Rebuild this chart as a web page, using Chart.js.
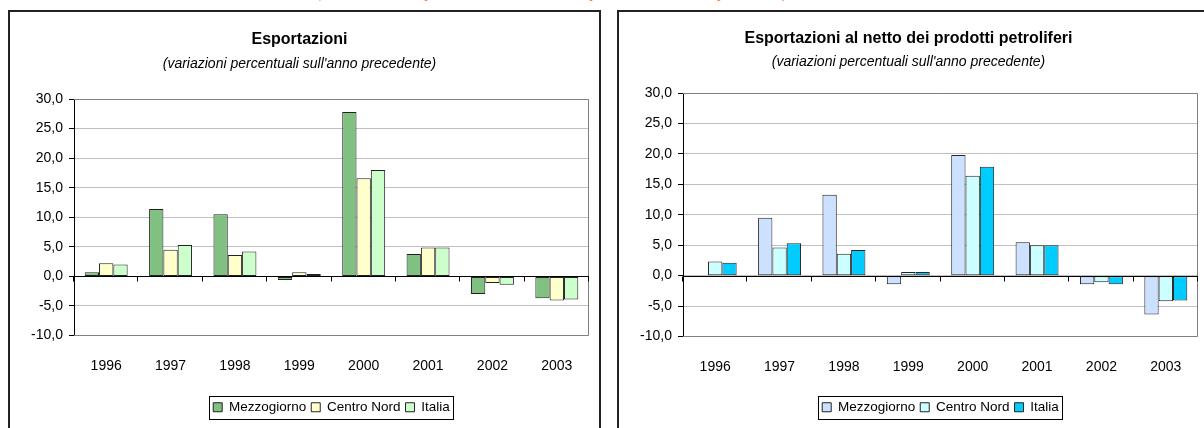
<!DOCTYPE html>
<html><head><meta charset="utf-8">
<script src="https://cdn.jsdelivr.net/npm/chart.js@4"></script>
<style>
html,body{margin:0;padding:0}
body{width:1204px;height:428px;overflow:hidden;background:#fff;position:relative;font-family:"Liberation Sans",Arial,sans-serif}
.panel{position:absolute;border:2px solid #222;background:#fff}
#p1{left:8px;top:10px;width:589px;height:436px}
#p2{left:617px;top:10px;width:600px;height:436px}
.panel canvas{position:absolute;left:0;top:0}
#note{position:absolute;top:-15px;left:316px;font-family:"Liberation Serif",serif;color:#ff6a10;font-size:15px;white-space:nowrap}
</style></head>
<body>
<div id="note">(milioni di euro a prezzi correnti e variazioni percentuali sull'anno precedente)</div>
<div class="panel" id="p1"><canvas id="c1" width="589" height="416"></canvas></div>
<div class="panel" id="p2"><canvas id="c2" width="589" height="416"></canvas></div>
<script>
const years = ['1996','1997','1998','1999','2000','2001','2002','2003'];
const seriesNames = ['Mezzogiorno','Centro Nord','Italia'];
// Esportazioni
const expMezzogiorno = [0.7, 11.4, 10.5, -0.6, 27.8, 3.8, -3.0, -3.7];
const expCentroNord  = [2.2, 4.5, 3.6, 0.7, 16.6, 4.9, -1.1, -4.1];
const expItalia      = [2.0, 5.3, 4.2, 0.4, 18.0, 4.9, -1.4, -3.9];
// Esportazioni al netto dei prodotti petroliferi
const netMezzogiorno = [-0.2, 9.5, 13.3, -1.4, 19.8, 5.5, -1.4, -6.4];
const netCentroNord  = [2.3, 4.6, 3.6, 0.6, 16.4, 5.0, -1.1, -4.2];
const netItalia      = [2.1, 5.3, 4.2, 0.6, 17.9, 5.0, -1.4, -4.1];
const yMin = -10, yMax = 30, yStep = 5;

const FONT = '"Liberation Sans", Arial, sans-serif';

const framePlugin = {
  id: 'frame',
  beforeDraw(chart) {
    // centre the legend under the plot area (as in the original)
    const lg = chart.legend, a = chart.chartArea;
    if (!lg || chart.$legendShifted === lg.left) return;
    const dx = Math.round((a.left + a.right) / 2 - (lg.left + lg.right) / 2);
    lg.left += dx; lg.right += dx;
    (lg.legendHitBoxes || []).forEach(h => { h.left += dx; });
    chart.$legendShifted = lg.left;
  },
  beforeDatasetsDraw(chart) {
    const {ctx, chartArea: a} = chart;
    ctx.save();
    ctx.strokeStyle = '#808080'; ctx.lineWidth = 1;
    ctx.beginPath();
    ctx.moveTo(a.left, Math.round(a.top) + 0.5);
    ctx.lineTo(Math.round(a.right) - 0.5, Math.round(a.top) + 0.5);
    ctx.lineTo(Math.round(a.right) - 0.5, Math.round(a.bottom) - 0.5);
    ctx.lineTo(a.left, Math.round(a.bottom) - 0.5);
    ctx.stroke();
    ctx.restore();
  },
  afterDatasetsDraw(chart) {
    const {ctx, chartArea: a, scales: {x, y}} = chart;
    const y0 = Math.round(y.getPixelForValue(0)) + 0.5;
    const half = (x.getPixelForValue(1) - x.getPixelForValue(0)) / 2;
    ctx.save();
    ctx.strokeStyle = '#000'; ctx.lineWidth = 1;
    ctx.beginPath();
    ctx.moveTo(a.left, y0); ctx.lineTo(a.right, y0);
    for (let i = 0; i <= years.length; i++) {
      const xb = Math.round(x.getPixelForValue(i) - half) - 0.5;
      ctx.moveTo(xb, y0); ctx.lineTo(xb, y0 + 5);
    }
    ctx.stroke();
    ctx.restore();
  },
  afterDraw(chart) {
    const lg = chart.legend;
    if (!lg || !lg.legendHitBoxes || !lg.legendHitBoxes.length) return;
    const hb = lg.legendHitBoxes;
    let l = Infinity, r = -Infinity, t = Infinity, b = -Infinity;
    hb.forEach(h => { l = Math.min(l, h.left); r = Math.max(r, h.left + h.width); t = Math.min(t, h.top); b = Math.max(b, h.top + h.height); });
    const ctx = chart.ctx;
    ctx.save();
    ctx.strokeStyle = '#000'; ctx.lineWidth = 1;
    ctx.strokeRect(Math.round(l - 4) + 0.5, Math.round(t - 5) + 0.5, Math.round(r - l + 7), Math.round(b - t + 9));
    ctx.restore();
  }
};

function makeChart(id, title, data, colors, cfg) {
  return new Chart(document.getElementById(id), {
    type: 'bar',
    data: {
      labels: years,
      datasets: data.map((d, i) => ({
        label: seriesNames[i], data: d,
        backgroundColor: colors[i], borderColor: '#222', borderWidth: 1, borderSkipped: false,
        categoryPercentage: 0.667, barPercentage: 1.0
      }))
    },
    options: {
      responsive: false, animation: false, devicePixelRatio: 1,
      layout: {padding: {left: 0, right: 10, top: 0, bottom: 4}},
      plugins: {
        title: {display: true, text: title, color: '#000', font: {family: FONT, size: 16, weight: 'bold'}, padding: {top: cfg.titleTop, bottom: 0}},
        subtitle: {display: true, text: "(variazioni percentuali sull'anno precedente)", color: '#000', font: {family: FONT, size: 14, style: 'italic'}, padding: {top: cfg.subTop, bottom: cfg.subBottom}},
        legend: {position: 'bottom', labels: {color: '#000', font: {family: FONT, size: 13.5}, boxWidth: 9, boxHeight: 9, padding: 5}},
        tooltip: {enabled: false}
      },
      scales: {
        x: {grid: {display: false}, border: {display: false},
            afterFit(s) { s.height = cfg.xHeight; },
            ticks: {color: '#000', font: {family: FONT, size: 14}, padding: cfg.xPad}},
        y: {min: yMin, max: yMax,
            afterFit(s) { s.width = 64; },
            ticks: {stepSize: yStep, color: '#000', font: {family: FONT, size: 14}, padding: 6,
                    callback: v => v.toFixed(1).replace('.', ',')},
            grid: {color: '#c0c0c0', tickColor: '#000', tickLength: 5},
            border: {color: '#000'}}
      }
    },
    plugins: [framePlugin]
  });
}

makeChart('c1', 'Esportazioni', [expMezzogiorno, expCentroNord, expItalia], ['#80c080', '#ffffcc', '#ccffcc'],
  {titleTop: 18, subTop: 7, subBottom: 26, xHeight: 60, xPad: 14});
makeChart('c2', 'Esportazioni al netto dei prodotti petroliferi', [netMezzogiorno, netCentroNord, netItalia], ['#cce0ff', '#ccffff', '#00ccff'],
  {titleTop: 17, subTop: 6, subBottom: 22, xHeight: 59, xPad: 14});
</script>
</body></html>
